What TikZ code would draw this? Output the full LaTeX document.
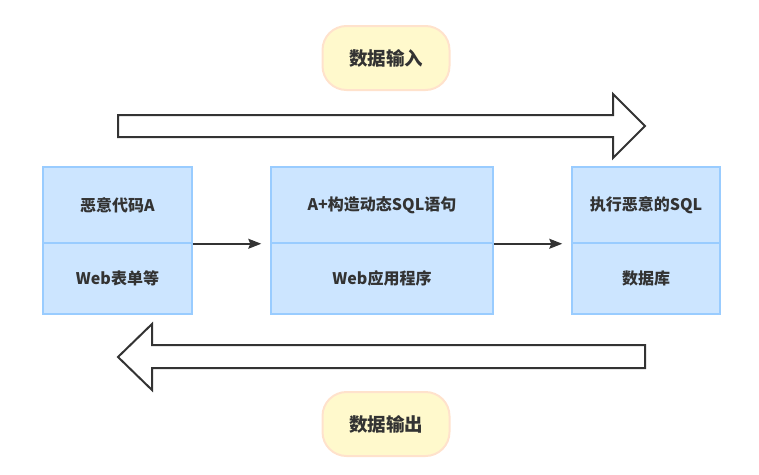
\documentclass[tikz,border=0pt]{standalone}
\usepackage{fontspec}
\setmainfont{Noto Sans CJK SC}
\usepackage{tikz}
\usetikzlibrary{arrows.meta}
\definecolor{boxfill}{HTML}{CCE5FF}
\definecolor{boxline}{HTML}{99CCFF}
\definecolor{pillfill}{HTML}{FFF9CC}
\definecolor{pillline}{HTML}{FFE2CC}
\definecolor{txt}{HTML}{333333}
\tikzset{
  cell/.style={draw=boxline, fill=boxfill, line width=1.5pt, inner sep=0pt,
    text=txt, font=\bfseries\fontsize{16}{19}\selectfont},
  pill/.style={draw=pillline, fill=pillfill, line width=2pt, rounded corners=24pt,
    minimum width=127pt, minimum height=64pt, text=txt,
    font=\bfseries\fontsize{18.5}{22}\selectfont},
  flow/.style={draw=txt, line width=1.5pt, shorten >=9pt,
    -{Stealth[length=13pt, width=10pt, inset=2pt]}},
  bigarrow/.style={draw=txt, fill=white, line width=2pt, line join=miter}
}

\begin{document}
\begin{tikzpicture}[x=1pt, y=-1pt]
        \useasboundingbox (0,0) rectangle (759,474);
        % the two block arrows
        \draw[bigarrow] (118,115) -- (613,115) -- (613,94) -- (645,126)
            -- (613,158) -- (613,137) -- (118,137) -- cycle;
        \draw[bigarrow] (645,345) -- (152,345) -- (152,324) -- (118,357)
            -- (152,390) -- (152,368) -- (645,368) -- cycle;
        \node[pill] (in) at (386,58) {数据输入};
        \node[pill] (out) at (386,424) {数据输出};
        % boxes: upper and lower cell
        \foreach \n/\x/\w/\ta/\tb in {a/117.5/149/恶意代码A/Web表单等,
            b/382/222/A+构造动态SQL语句/Web应用程序,
            c/646/148/执行恶意的SQL/数据库}
        {
            \node[cell, minimum width=\w pt, minimum height=76pt] (\n1) at (\x,205) {\ta};
            \node[cell, minimum width=\w pt, minimum height=71pt] (\n2) at (\x,278.5) {\tb};
        }
        \draw[flow] (a1.south east) -- (b1.south west);
        \draw[flow] (b1.south east) -- (c1.south west);
    \end{tikzpicture}
\end{document}
